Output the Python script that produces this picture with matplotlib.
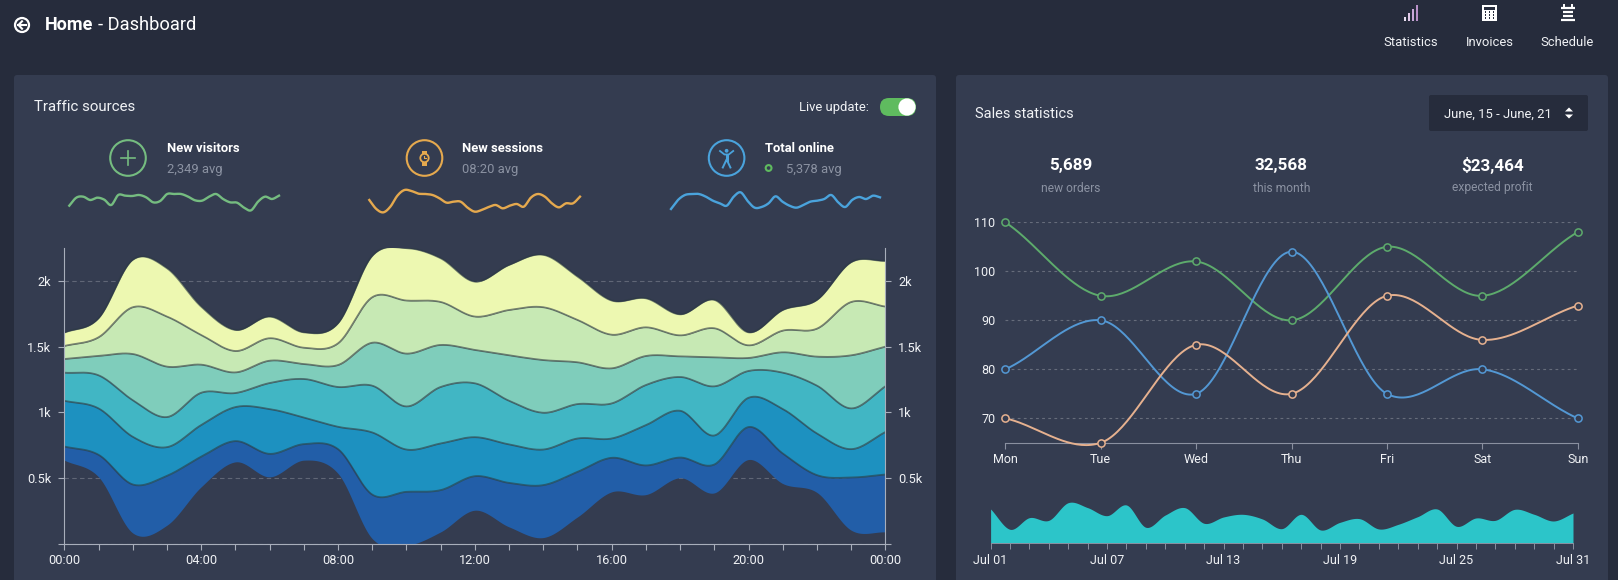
import numpy as np
import matplotlib
matplotlib.use("Agg")
import matplotlib.pyplot as plt
from matplotlib.patches import Circle, FancyBboxPatch, Rectangle, Polygon

plt.rcParams['font.family'] = ['Roboto', 'DejaVu Sans']

W, H = 1618, 580
BODY = '#262c3c'
PANEL = '#343c50'
TEXT = '#f0f2f5'
MUTED = '#8b92a2'

# stream chart, upper edge of every band (bottom band first is the baseline)
hours = list(range(25))
hour_labels = ['00:00', '04:00', '08:00', '12:00', '16:00', '20:00', '00:00']
stream_ticks = [0, 500, 1000, 1500, 2000]
stream_tick_labels = ['', '0.5k', '1k', '1.5k', '2k']
baseline = [635, 508, 81, 140, 432, 622, 508, 635, 534, 38, -13, 89, 254, 127, 46, 203, 394, 373, 501, 386, 640, 457, 389, 102, 89]
edge_1 = [739, 676, 450, 516, 661, 780, 683, 757, 719, 373, 394, 407, 513, 462, 445, 546, 653, 595, 655, 602, 887, 686, 521, 503, 526]
edge_2 = [1087, 1029, 813, 734, 902, 1039, 1024, 960, 889, 846, 716, 762, 810, 755, 716, 800, 800, 902, 1011, 823, 1110, 1024, 838, 719, 849]
edge_3 = [1301, 1281, 1092, 963, 1148, 1146, 1222, 1253, 1192, 1202, 1044, 1192, 1220, 1087, 996, 1062, 1067, 1207, 1268, 1197, 1314, 1301, 1202, 1029, 1197]
edge_4 = [1405, 1428, 1443, 1347, 1362, 1303, 1392, 1367, 1359, 1529, 1446, 1512, 1474, 1433, 1397, 1380, 1334, 1428, 1425, 1418, 1413, 1456, 1423, 1433, 1499]
edge_5 = [1504, 1570, 1799, 1728, 1588, 1466, 1563, 1491, 1524, 1875, 1850, 1839, 1728, 1778, 1799, 1702, 1590, 1646, 1585, 1639, 1509, 1621, 1636, 1839, 1804]
edge_6 = [1606, 1715, 2160, 2096, 1804, 1626, 1728, 1608, 1677, 2190, 2249, 2172, 1994, 2121, 2198, 2033, 1850, 1867, 1745, 1855, 1608, 1778, 1855, 2142, 2152]
band_colors = ['#225ea8', '#1d91c0', '#41b6c4', '#7fcdbb', '#c7e9b4', '#edf8b1']

# sparklines under the three counters
spark_visitors = [43, 67, 70, 60, 67, 61, 45, 75, 73, 72, 75, 68, 53, 57, 78, 78, 78, 70, 59, 58, 70, 78, 63, 53, 52, 37, 29, 55, 70, 63, 73]
spark_sessions = [60, 33, 23, 40, 73, 90, 87, 79, 78, 75, 65, 52, 55, 55, 37, 25, 30, 39, 45, 35, 43, 48, 40, 67, 78, 70, 50, 38, 50, 50, 70]
spark_online = [33, 60, 75, 78, 78, 70, 58, 50, 43, 70, 83, 57, 37, 39, 50, 71, 55, 43, 37, 45, 55, 58, 63, 75, 53, 39, 60, 69, 63, 73, 68]

# sales lines
days = ['Mon', 'Tue', 'Wed', 'Thu', 'Fri', 'Sat', 'Sun']
sales_ticks = [70, 80, 90, 100, 110]
sales_green = [110, 95, 102, 90, 105, 95, 108]
sales_blue = [80, 90, 75, 104, 75, 80, 70]
sales_orange = [70, 65, 85, 75, 95, 86, 93]

# small july area
july_labels = ['Jul 01', 'Jul 07', 'Jul 13', 'Jul 19', 'Jul 25', 'Jul 31']
july_values = [103, 42, 77, 69, 122, 107, 83, 115, 48, 85, 107, 60, 79, 87, 73, 44,
               87, 40, 63, 74, 43, 57, 80, 103, 51, 76, 69, 102, 87, 67, 91]

counter_values = ['5,689', '32,568', '$23,464']
counter_names = ['new orders', 'this month', 'expected profit']


def px_axes(left, top, right, bottom):
    ax = fig.add_axes([left / W, 1 - bottom / H, (right - left) / W, (bottom - top) / H])
    ax.patch.set_alpha(0)
    return ax


def smooth(x, y, n=30, k=1.0):
    # cardinal spline through the points, k scales the tangents
    x = np.asarray(x, float)
    y = np.asarray(y, float)
    m = np.zeros(len(x))
    m[1:-1] = k * (y[2:] - y[:-2]) / 2
    m[0] = k * (y[1] - y[0])
    m[-1] = k * (y[-1] - y[-2])
    xs, ys = [], []
    for i in range(len(x) - 1):
        t = np.linspace(0, 1, n, endpoint=False)
        xs.append(x[i] + t)
        ys.append((2*t**3 - 3*t**2 + 1) * y[i] + (t**3 - 2*t**2 + t) * m[i]
                  + (-2*t**3 + 3*t**2) * y[i + 1] + (t**3 - t**2) * m[i + 1])
    return np.append(np.concatenate(xs), x[-1]), np.append(np.concatenate(ys), y[-1])


fig = plt.figure(figsize=(W / 100, H / 100), dpi=100, facecolor=BODY)

# page layer in pixel coordinates
bg = fig.add_axes([0, 0, 1, 1])
bg.set_xlim(0, W)
bg.set_ylim(H, 0)
bg.axis('off')


def label(x, y, s, size=13, color=TEXT, weight='normal', ha='left'):
    bg.text(x, y + 1, s, fontsize=size * 0.72, color=color, fontweight=weight, ha=ha, va='center')


for left, right in [(14, 936), (956, 1608)]:
    bg.add_patch(FancyBboxPatch((left + 3, 78), right - left - 6, 540, boxstyle='round,pad=3',
                                fc=PANEL, ec='none'))

# header
bg.add_patch(Circle((22, 25), 7, fc='none', ec='white', lw=1.6))
bg.plot([26, 18.5], [25, 25], color='white', lw=1.5)
bg.plot([22, 18.5, 22], [21.3, 25, 28.7], color='white', lw=1.5)
label(45, 24.5, 'Home', 18, 'white', 'bold')
label(98, 24.5, '- Dashboard', 18.3, 'white')

for x, s in [(1411, 'Statistics'), (1489.5, 'Invoices'), (1567, 'Schedule')]:
    label(x, 41, s, 13, ha='center')
for x, top, c in [(1405, 16.7, '#e8e0f0'), (1409, 13.3, '#e0c8e8'), (1413, 9.3, '#c8a8d8'), (1417.3, 5, '#b890c8')]:
    bg.add_patch(Rectangle((x - 1, top), 2.2, 20.7 - top, fc=c, ec='none'))
bg.add_patch(Rectangle((1482.3, 5), 14.4, 15.7, fc='white', ec='none'))
bg.add_patch(Rectangle((1484.3, 7), 10.4, 2.5, fc=BODY, ec='none'))
for gx in [1484.6, 1488.6, 1492.6]:
    for gy in [11.2, 14.2, 17.2]:
        bg.add_patch(Rectangle((gx, gy), 1.8, 1.5, fc=BODY, ec='none'))
for gy, x0, x1 in [(8, 1561, 1575.5), (12.3, 1563, 1573.5), (16.3, 1563, 1573.5), (20, 1561, 1575.5)]:
    bg.plot([x0, x1], [gy, gy], color='white', lw=1.6, solid_capstyle='butt')
bg.plot([1564.5, 1564.5], [5.3, 8], color='white', lw=1.4)
bg.plot([1572, 1572], [5.3, 8], color='white', lw=1.4)

# traffic panel header
label(34, 106, 'Traffic sources', 15)
label(799, 107, 'Live update:', 13)
bg.add_patch(FancyBboxPatch((880, 98), 36, 18, boxstyle='round,pad=0,rounding_size=9', fc='#5fbb5f', ec='none'))
bg.add_patch(Circle((907, 107), 8.6, fc='white', ec='none'))

GREEN, ORANGE, BLUE = '#75bc80', '#e5a94e', '#4aa3dc'
for cx, c in [(128, GREEN), (424.5, ORANGE), (726.6, BLUE)]:
    bg.add_patch(Circle((cx, 158), 17.8, fc='none', ec=c, lw=1.5))
bg.plot([121, 135], [158, 158], color=GREEN, lw=1.2)
bg.plot([128, 128], [151, 165], color=GREEN, lw=1.2)
bg.add_patch(Circle((424.5, 158), 4.2, fc='none', ec=ORANGE, lw=1.3))
bg.plot([424.5, 424.5, 426.5], [155.8, 158, 158], color=ORANGE, lw=0.8)
for y0, y1 in [(150.5, 154), (162, 165.5)]:
    bg.add_patch(Rectangle((422.3, y0), 4.4, y1 - y0, fc=ORANGE, ec='none'))
bg.add_patch(Circle((726.6, 150.8), 1.9, fc=BLUE, ec='none'))
bg.plot([720, 724.5, 728.7, 733.2], [151, 154.5, 154.5, 151], color=BLUE, lw=1.3)
bg.plot([726.6, 726.6], [154.5, 159.5], color=BLUE, lw=2.2)
bg.plot([722.8, 726.6, 730.4], [167.5, 159.5, 167.5], color=BLUE, lw=1.4)

label(167, 148, 'New visitors', 13, 'white', 'bold')
label(167, 168, '2,349 avg', 13, MUTED)
label(462, 148, 'New sessions', 13, 'white', 'bold')
label(462, 168, '08:20 avg', 13, MUTED)
label(765, 148, 'Total online', 13, 'white', 'bold')
bg.add_patch(Circle((768.6, 168), 2.9, fc='none', ec='#5fbb5f', lw=1.5))
label(786.5, 168, '5,378 avg', 13, MUTED)

# sales panel header
label(975.5, 113, 'Sales statistics', 14.6)
bg.add_patch(FancyBboxPatch((1431, 97), 155, 32, boxstyle='round,pad=2', fc=BODY, ec='none'))
label(1443.7, 113, 'June, 15 - June, 21', 13)
bg.add_patch(Polygon([[1565, 111.5], [1573, 111.5], [1569, 107.5]], fc='white', ec='none'))
bg.add_patch(Polygon([[1565, 114.5], [1573, 114.5], [1569, 118.5]], fc='white', ec='none'))
for x, value, name in zip([1071, 1281.5, 1492.5], counter_values, counter_names):
    label(x, 164.5, value, 17, 'white', 'bold', ha='center')
    label(x, 187, name, 12, MUTED, ha='center')

# sparklines
for data, x0, x1, c in [(spark_visitors, 69.3, 279, GREEN),
                        (spark_sessions, 369.3, 580, ORANGE),
                        (spark_online, 671, 880, BLUE)]:
    ax = px_axes(x0, 185, x1, 220)
    ax.plot(*smooth(range(len(data)), data, 10), color=c, lw=1.7, clip_on=False)
    ax.set_xlim(0, len(data) - 1)
    ax.set_ylim(0, 105)
    ax.axis('off')

# stream chart
ax = px_axes(64.3, 248, 885.4, 543.6)
edges = [baseline, edge_1, edge_2, edge_3, edge_4, edge_5, edge_6]
for i, c in enumerate(band_colors):
    xs, low = smooth(hours, edges[i])
    xs, high = smooth(hours, edges[i + 1])
    ax.fill_between(xs, low, high, color=c, lw=0, zorder=2)
    ax.plot(xs, high, color='#2c3a44', alpha=0.62, lw=1.3, zorder=3)
ax.set_xlim(0, 24)
ax.set_ylim(0, 2250)
ax.set_xticks(hours)
ax.set_xticklabels([hour_labels[h // 4] if h % 4 == 0 else '' for h in hours])
ax.set_yticks(stream_ticks)
ax.set_yticklabels(stream_tick_labels)
ax.tick_params(axis='x', length=4, width=0.8, color='#a8aebb', labelcolor=TEXT, labelsize=9.2, pad=3.5)
ax.tick_params(axis='y', length=4, width=0.8, color='#a8aebb', labelcolor=TEXT, labelsize=9.2, pad=5.2,
               left=True, right=True, labelleft=True, labelright=True)
ax.grid(axis='y', color='#ffffff', alpha=0.22, lw=0.8, ls=(0, (4, 3)), zorder=1)
for side in ['left', 'right', 'bottom']:
    ax.spines[side].set_color('#a8aebb')
    ax.spines[side].set_linewidth(0.8)
    ax.spines[side].set_zorder(4)
ax.spines['top'].set_visible(False)

# sales chart
ax = px_axes(1005.3, 222.3, 1577.7, 442.8)
pos = list(range(len(days)))
for data, c in [(sales_green, '#5dab6c'), (sales_blue, '#5398d4'), (sales_orange, '#e6b18f')]:
    ax.plot(*smooth(pos, data, 40, 0.85), color=c, lw=1.4, zorder=3, clip_on=False)
    ax.plot(pos, data, 'o', ms=5.2, mfc=PANEL, mec=c, mew=1.1, zorder=4, clip_on=False)
ax.set_xlim(0, 6)
ax.set_ylim(65, 110)
ax.set_xticks(pos)
ax.set_xticklabels(days)
ax.set_yticks(sales_ticks)
ax.tick_params(axis='x', length=4, width=0.8, color='#8a90a0', labelcolor=TEXT, labelsize=9, pad=3)
ax.tick_params(axis='y', length=0, labelcolor=TEXT, labelsize=9, pad=7)
ax.grid(axis='y', color='#ffffff', alpha=0.25, lw=0.8, ls=(0, (2.5, 3)), zorder=1)
for side in ['left', 'right', 'top']:
    ax.spines[side].set_visible(False)
ax.spines['bottom'].set_color('#8a90a0')

# july area
ax = px_axes(990.6, 495, 1573, 543.3)
july_days = list(range(len(july_values)))
ax.fill_between(*smooth(july_days, july_values), color='#2cc5c9', lw=0, zorder=2)
ax.set_xlim(0, 30)
ax.set_ylim(0, 145)
ax.set_xticks(july_days)
ax.set_xticklabels([july_labels[d // 6] if d % 6 == 0 else '' for d in july_days])
ax.set_yticks([])
ax.tick_params(axis='x', length=4, width=0.7, color='#8a90a0', labelcolor=TEXT, labelsize=9, pad=3.5)
for side in ['left', 'right', 'top']:
    ax.spines[side].set_visible(False)
ax.spines['bottom'].set_color('#8a90a0')
ax.spines['bottom'].set_linewidth(0.7)

fig.savefig('out.png', dpi=100, facecolor=fig.get_facecolor())
